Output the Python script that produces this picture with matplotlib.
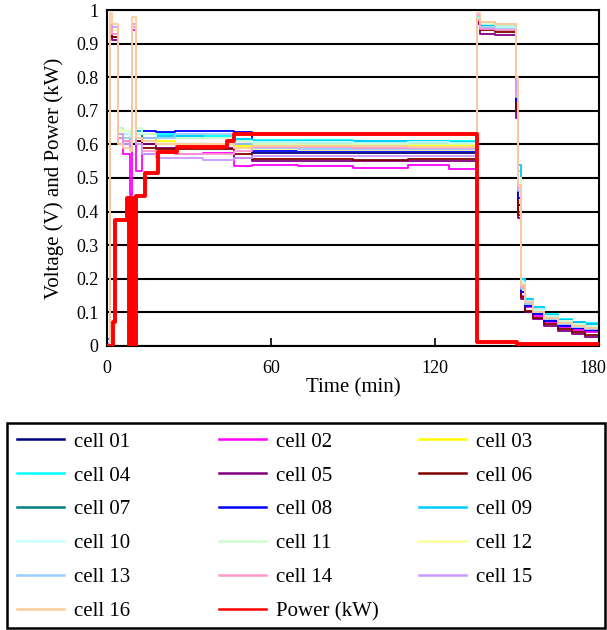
import matplotlib
matplotlib.use("Agg")
import matplotlib.pyplot as plt
import matplotlib.transforms as mtransforms
from matplotlib.patches import Rectangle
from matplotlib.ticker import FormatStrFormatter

plt.rcParams["font.family"] = ["Liberation Serif", "DejaVu Serif"]

# sampling times (min) shared by all cell traces
time_min = [0, 1.2, 2, 4, 6, 8.5, 9.2, 10.5, 13, 18, 25, 35, 46.5, 53, 70, 90,
            110, 125, 135.5, 136.5, 142, 149.5, 150.5, 151.5, 153, 156, 160,
            165, 170, 175, 180]

cell01 = [0.01, 0.95, 0.93, 0.63, 0.62, 0.61, 0.95, 0.62, 0.61, 0.62, 0.62, 0.62, 0.60,
          0.575, 0.575, 0.574, 0.575, 0.574,
          0.97, 0.95, 0.945, 0.72,
          0.42, 0.16, 0.12, 0.095, 0.075, 0.06, 0.05, 0.044, 0.04]
cell02 = [0.0, 0.94, 0.92, 0.60, 0.57, 0.45, 0.94, 0.52, 0.57, 0.575, 0.57, 0.575, 0.535,
          0.54, 0.535, 0.53, 0.54, 0.528,
          0.96, 0.945, 0.94, 0.70,
          0.40, 0.15, 0.115, 0.09, 0.07, 0.056, 0.047, 0.04, 0.036]
cell03 = [0.01, 0.95, 0.94, 0.64, 0.62, 0.62, 0.95, 0.63, 0.62, 0.61, 0.60, 0.60, 0.595,
          0.60, 0.598, 0.598, 0.597, 0.597,
          0.97, 0.94, 0.937, 0.74,
          0.46, 0.17, 0.125, 0.10, 0.08, 0.066, 0.056, 0.05, 0.046]
cell04 = [0.01, 0.95, 0.94, 0.64, 0.63, 0.62, 0.96, 0.64, 0.63, 0.63, 0.625, 0.625, 0.615,
          0.612, 0.612, 0.61, 0.61, 0.61,
          0.98, 0.955, 0.95, 0.78,
          0.52, 0.20, 0.14, 0.115, 0.095, 0.08, 0.072, 0.068, 0.065]
cell05 = [0.0, 0.93, 0.91, 0.62, 0.60, 0.59, 0.95, 0.61, 0.60, 0.59, 0.59, 0.59, 0.56,
          0.552, 0.55, 0.55, 0.55, 0.55,
          0.96, 0.93, 0.925, 0.68,
          0.38, 0.14, 0.10, 0.08, 0.06, 0.045, 0.035, 0.027, 0.02]
cell06 = [0.0, 0.94, 0.92, 0.62, 0.61, 0.60, 0.95, 0.61, 0.59, 0.585, 0.585, 0.585, 0.57,
          0.556, 0.557, 0.555, 0.556, 0.556,
          0.965, 0.94, 0.935, 0.70,
          0.39, 0.145, 0.105, 0.083, 0.064, 0.05, 0.04, 0.033, 0.028]
cell07 = [0.02, 0.95, 0.94, 0.63, 0.62, 0.62, 0.95, 0.63, 0.62, 0.62, 0.62, 0.62, 0.61,
          0.606, 0.605, 0.605, 0.604, 0.604,
          0.975, 0.955, 0.955, 0.76,
          0.50, 0.19, 0.135, 0.11, 0.09, 0.076, 0.068, 0.064, 0.06]
cell08 = [0.01, 0.95, 0.93, 0.64, 0.63, 0.63, 0.95, 0.64, 0.64, 0.638, 0.64, 0.64, 0.638,
          0.58, 0.58, 0.579, 0.58, 0.579,
          0.97, 0.945, 0.94, 0.73,
          0.44, 0.16, 0.12, 0.095, 0.075, 0.06, 0.052, 0.047, 0.043]
cell09 = [0.01, 0.95, 0.94, 0.65, 0.63, 0.63, 0.96, 0.64, 0.63, 0.625, 0.625, 0.62, 0.615,
          0.61, 0.61, 0.609, 0.609, 0.608,
          0.975, 0.955, 0.95, 0.79,
          0.54, 0.20, 0.14, 0.115, 0.093, 0.078, 0.07, 0.066, 0.062]
cell10 = [0.01, 0.95, 0.94, 0.64, 0.63, 0.62, 0.96, 0.63, 0.63, 0.62, 0.62, 0.62, 0.61,
          0.606, 0.606, 0.605, 0.606, 0.605,
          0.975, 0.95, 0.95, 0.77,
          0.50, 0.19, 0.135, 0.11, 0.09, 0.075, 0.066, 0.06, 0.057]
cell11 = [0.01, 0.95, 0.94, 0.65, 0.64, 0.63, 0.96, 0.65, 0.63, 0.62, 0.62, 0.62, 0.61,
          0.602, 0.602, 0.601, 0.601, 0.60,
          0.975, 0.96, 0.955, 0.77,
          0.50, 0.185, 0.13, 0.105, 0.087, 0.073, 0.064, 0.058, 0.054]
cell12 = [0.01, 0.95, 0.94, 0.64, 0.62, 0.62, 0.95, 0.62, 0.61, 0.60, 0.60, 0.60, 0.59,
          0.585, 0.584, 0.584, 0.583, 0.583,
          0.97, 0.95, 0.945, 0.75,
          0.47, 0.175, 0.125, 0.10, 0.08, 0.066, 0.057, 0.052, 0.048]
cell13 = [0.01, 0.95, 0.93, 0.63, 0.62, 0.61, 0.95, 0.62, 0.62, 0.62, 0.63, 0.63, 0.60,
          0.588, 0.587, 0.586, 0.586, 0.586,
          0.97, 0.95, 0.945, 0.74,
          0.46, 0.17, 0.125, 0.10, 0.08, 0.065, 0.056, 0.05, 0.046]
cell14 = [0.01, 0.95, 0.93, 0.62, 0.61, 0.60, 0.95, 0.60, 0.58, 0.575, 0.57, 0.57, 0.58,
          0.592, 0.591, 0.59, 0.59, 0.59,
          0.97, 0.945, 0.94, 0.75,
          0.47, 0.175, 0.13, 0.10, 0.082, 0.068, 0.06, 0.054, 0.05]
cell15 = [0.01, 0.96, 0.95, 0.63, 0.60, 0.59, 0.96, 0.60, 0.57, 0.56, 0.56, 0.555, 0.56,
          0.566, 0.565, 0.565, 0.564, 0.564,
          0.985, 0.965, 0.96, 0.76,
          0.48, 0.18, 0.13, 0.10, 0.082, 0.067, 0.058, 0.052, 0.048]
cell16 = [0.0, 0.99, 0.96, 0.60, 0.59, 0.58, 0.98, 0.62, 0.61, 0.60, 0.60, 0.60, 0.59,
          0.595, 0.594, 0.594, 0.593, 0.593,
          0.99, 0.965, 0.96, 0.80,
          0.48, 0.18, 0.13, 0.10, 0.082, 0.068, 0.06, 0.054, 0.05]

# stack power output
power_t = [0, 2.2, 2.9, 7.3, 8.0, 8.9, 9.6, 10.6, 14, 18.8, 25.5, 44, 46.5,
           135.5, 150, 180]
power_kw = [0, 0.07, 0.375, 0.44, 0, 0.44, 0, 0.445, 0.515, 0.578, 0.593, 0.61,
            0.632, 0.012, 0.006, 0.006]

cells = [cell01, cell02, cell03, cell04, cell05, cell06, cell07, cell08,
         cell09, cell10, cell11, cell12, cell13, cell14, cell15, cell16]
cell_labels = ["cell %02d" % (i + 1) for i in range(16)]
cell_colors = ["#000080", "#ff00ff", "#ffff00", "#00ffff", "#800080", "#800000",
               "#008080", "#0000ff", "#00ccff", "#ccffff", "#ccffcc", "#ffff99",
               "#99ccff", "#ff99cc", "#cc99ff", "#ffcc99"]

fig = plt.figure(figsize=(6.07, 6.30), dpi=100)
ax = fig.add_axes([0.176, 0.451, 0.811, 0.533])

handles = []
for v, lab, c in zip(cells, cell_labels, cell_colors):
    h, = ax.plot(time_min, v, drawstyle="steps-post", color=c, lw=1.3, label=lab)
    handles.append(h)
hp, = ax.plot(power_t, power_kw, drawstyle="steps-post", color="#ff0000", lw=2.8,
              label="Power (kW)", zorder=5)
handles.append(hp)

ax.set_xlim(0, 180)
ax.set_ylim(0, 1)
ax.set_xticks([0, 60, 120, 180])
ax.set_yticks([i / 10 for i in range(11)])
ax.yaxis.set_major_formatter(FormatStrFormatter("%g"))
ax.grid(axis="y", color="black", lw=1.5)
ax.set_axisbelow(True)
ax.tick_params(axis="x", direction="in", length=6, width=1.2, labelsize=13, pad=10)
ax.tick_params(axis="y", length=0, labelsize=13, pad=6)
for s in ax.spines.values():
    s.set_linewidth(1.5)
ax.set_xlabel("Time (min)", fontsize=15, labelpad=1)
ax.set_ylabel("Voltage (V) and Power (kW)", fontsize=15, labelpad=9)

# nudge the last x label so it stays inside the figure
last = ax.get_xticklabels()[-1]
last.set_transform(last.get_transform() +
                   mtransforms.ScaledTranslation(-6 / 100, 0, fig.dpi_scale_trans))

# boxed legend, three fixed-width columns filled row by row
fig.patches.append(Rectangle((7 / 607, 2 / 630), 598 / 607, 205 / 630,
                             transform=fig.transFigure, fill=False,
                             edgecolor="black", lw=1.8))
columns = [[0, 3, 6, 9, 12, 15], [1, 4, 7, 10, 13, 16], [2, 5, 8, 11, 14]]
col_x = [17 / 607, 219 / 607, 419 / 607]
for idx, x0 in zip(columns, col_x):
    leg = fig.legend([handles[i] for i in idx], [handles[i].get_label() for i in idx],
                     loc="upper left", bbox_to_anchor=(x0, 1 - 432 / 630),
                     fontsize=15, frameon=False, handlelength=2.25,
                     handletextpad=0.5, labelspacing=0.69, borderpad=0,
                     borderaxespad=0)
    for ln in leg.get_lines():
        ln.set_linewidth(1.8)

fig.savefig("out.png", dpi=100)
